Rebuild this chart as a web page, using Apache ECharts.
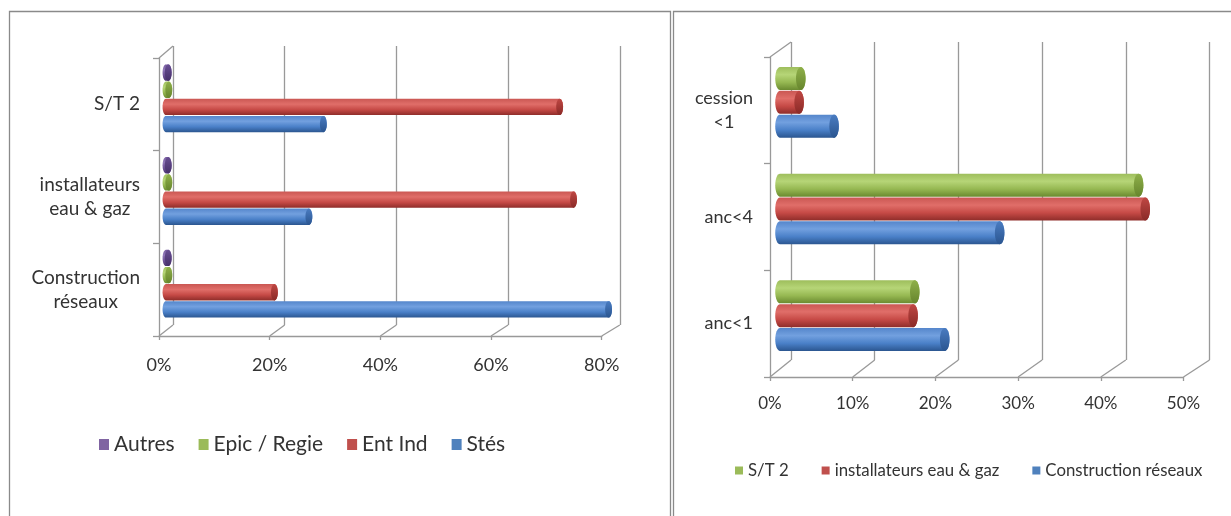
<!DOCTYPE html>
<html>
<head>
<meta charset="utf-8">
<script src="https://cdn.jsdelivr.net/npm/echarts@6/dist/echarts.min.js"></script>
<style>
  html, body { margin: 0; padding: 0; background: #ffffff; }
  #chart { width: 1231px; height: 516px; }
</style>
</head>
<body>
<div id="chart"></div>
<script>
// ---- Left panel: company type share per activity (percent) ----
const leftCategories = ['Construction\nréseaux', 'installateurs\neau & gaz', 'S/T 2'];
const leftStes   = [79.6, 25.7, 28.3];
const leftEntInd = [19.5, 73.3, 70.8];
const leftEpic   = [0.5, 0.5, 0.5];
const leftAutres = [0.4, 0.4, 0.4];
const leftTicks  = [0, 20, 40, 60, 80];

// ---- Right panel: seniority share per activity (percent) ----
const rightCategories   = ['anc<1', 'anc<4', 'cession\n<1'];
const rightConstruction = [19.8, 26.4, 6.5];
const rightInstallateurs = [16.0, 43.9, 2.3];
const rightST2          = [16.2, 43.1, 2.5];
const rightTicks        = [0, 10, 20, 30, 40, 50];

const FONT = 'Lato, "Open Sans", sans-serif';
const TEXT = '#333333';
const FRAME = '#999999';

// cylinder shading (body gradient stops, end cap gradient stops, legend swatch)
const PALETTE = {
  blue:   { body: ['#5586cb', '#72a0df', '#4a80c8', '#2b5690'], cap: ['#4a7cc1', '#2a5590'], flat: '#4f81bd' },
  red:    { body: ['#ca5753', '#e06e69', '#c64a46', '#8f2d2a'], cap: ['#bf4743', '#8a2a27'], flat: '#c0504d' },
  green:  { body: ['#9ebe5c', '#b6d577', '#96b852', '#6a8a30'], cap: ['#8fb04a', '#66852d'], flat: '#9bbb59' },
  purple: { body: ['#775c9f', '#9078b8', '#6f5398', '#4a3370'], cap: ['#684e92', '#46306a'], flat: '#8064a2' }
};

// panel geometry: front plane (axes), middle plane (bars), back wall (gridlines)
const L = {
  front: { left: 159, top: 58, width: 442.7, height: 278 },
  mid:   { left: 166, top: 52, width: 444.8, height: 278 },
  back:  { left: 173, top: 46, width: 446.8, height: 279 },
  max: 80, interval: 20, gap: 0.26
};
const R = {
  front: { left: 770, top: 57, width: 413.5, height: 320 },
  mid:   { left: 780, top: 49, width: 416, height: 320 },
  back:  { left: 791, top: 42, width: 418.5, height: 318 },
  max: 50, interval: 10, gap: 0.33
};

function grad(stops) {
  const n = stops.length - 1;
  return new echarts.graphic.LinearGradient(0, 0, 0, 1,
    stops.map((c, i) => ({ offset: i / n, color: c })));
}

function arcPts(cx, cy, rx, ry, a0, a1, steps) {
  const pts = [];
  for (let i = 0; i <= steps; i++) {
    const a = a0 + (a1 - a0) * i / steps;
    pts.push([cx + rx * Math.cos(a), cy + ry * Math.sin(a)]);
  }
  return pts;
}

// horizontal cylinder drawn from the series value through the grid's scales
function cylinder(slotFromTop, count, gap, pal) {
  return function (params, api) {
    const val = api.value(0);
    const cat = api.value(1);
    const start = api.coord([0, cat]);
    const end = api.coord([val, cat]);
    const band = api.size([0, 1])[1];
    const groupH = band * (1 - gap);
    const barH = groupH / count;
    const y0 = start[1] - groupH / 2 + slotFromTop * barH;
    const ry = barH / 2 - 0.4;
    const rx = barH * 0.2;
    const cy = y0 + barH / 2;
    const x0 = start[0], x1 = Math.max(end[0], start[0] + 0.5);
    const outline = []
      .concat(arcPts(x0, cy, rx, ry, Math.PI / 2, Math.PI * 1.5, 16))
      .concat(arcPts(x1, cy, rx, ry, -Math.PI / 2, Math.PI / 2, 16));
    const cap = arcPts(x1, cy, rx, ry, 0, Math.PI * 2, 32);
    return {
      type: 'group',
      children: [
        { type: 'polygon', shape: { points: outline }, style: { fill: grad(pal.body) } },
        { type: 'polygon', shape: { points: cap }, style: { fill: grad(pal.cap) } }
      ]
    };
  };
}

// 3D frame: floor diagonals from each front tick to the back wall, plus the wall's top corner
function frame(geo, ticks) {
  return function (params, api) {
    const cs = params.coordSys;
    const floorY = cs.y + cs.height;
    const backFloorY = geo.back.top + geo.back.height;
    const lines = ticks.map(v => {
      const fx = api.coord([v, 0])[0];
      const bx = geo.back.left + geo.back.width * v / geo.max;
      return {
        type: 'line',
        shape: { x1: fx, y1: floorY, x2: bx, y2: backFloorY },
        style: { stroke: FRAME, lineWidth: 1.3 }
      };
    });
    lines.push({
      type: 'line',
      shape: { x1: cs.x, y1: cs.y, x2: geo.back.left, y2: geo.back.top },
      style: { stroke: FRAME, lineWidth: 1.3 }
    });
    return { type: 'group', children: lines };
  };
}

function catLabel(fontSize, margin, lh) {
  return {
    margin: margin,
    color: TEXT,
    fontFamily: FONT,
    fontSize: fontSize,
    lineHeight: lh,
    formatter: v => v.split('\n').map(l => '{c|' + l + '}').join('\n'),
    rich: { c: { align: 'center', fontFamily: FONT, fontSize: fontSize, color: TEXT, lineHeight: lh } }
  };
}

function axesFor(geo, cats, gi, xFont, xMargin, yFont, yMargin, lh) {
  const x = [
    { gridIndex: gi, type: 'value', min: 0, max: geo.max, interval: geo.interval,
      axisLine: { show: true, lineStyle: { color: FRAME, width: 1.3 } },
      axisTick: { show: true, length: 4, lineStyle: { color: FRAME, width: 1.3 } },
      axisLabel: { formatter: '{value}%', margin: xMargin, color: TEXT, fontFamily: FONT, fontSize: xFont },
      splitLine: { show: false } },
    { gridIndex: gi + 1, type: 'value', min: 0, max: geo.max, interval: geo.interval, show: false },
    { gridIndex: gi + 2, type: 'value', min: 0, max: geo.max, interval: geo.interval,
      axisLine: { show: false }, axisTick: { show: false }, axisLabel: { show: false },
      splitLine: { show: true, lineStyle: { color: FRAME, width: 1.3 } } }
  ];
  const y = [
    { gridIndex: gi, type: 'category', data: cats,
      axisLine: { show: true, lineStyle: { color: FRAME, width: 1.3 } },
      axisTick: { show: true, length: 6, lineStyle: { color: FRAME, width: 1.3 } },
      axisLabel: catLabel(yFont, yMargin, lh) },
    { gridIndex: gi + 1, type: 'category', data: cats, show: false },
    { gridIndex: gi + 2, type: 'category', data: cats, show: false }
  ];
  return { x, y };
}

const la = axesFor(L, leftCategories, 0, 18, 20, 19, 19, 24);
const ra = axesFor(R, rightCategories, 3, 17, 18, 18, 17, 24);

function cylSeries(name, values, axisBase, slot, count, gap, pal) {
  return {
    name: name,
    type: 'custom',
    xAxisIndex: axisBase + 1,
    yAxisIndex: axisBase + 1,
    data: values.map((v, i) => [v, i]),
    encode: { x: 0, y: 1 },
    itemStyle: { color: pal.flat },
    renderItem: cylinder(slot, count, gap, pal),
    z: 5,
    silent: true
  };
}

const option = {
  backgroundColor: '#ffffff',
  animation: false,
  graphic: [
    { type: 'rect', shape: { x: 9.5, y: 11.5, width: 661, height: 540 },
      style: { fill: 'none', stroke: '#8a8a8a', lineWidth: 1.3 }, z: 0 },
    { type: 'rect', shape: { x: 673.5, y: 11.5, width: 600, height: 540 },
      style: { fill: 'none', stroke: '#8a8a8a', lineWidth: 1.3 }, z: 0 }
  ],
  grid: [L.front, L.mid, L.back, R.front, R.mid, R.back].map(g => Object.assign({ containLabel: false }, g)),
  xAxis: la.x.concat(ra.x),
  yAxis: la.y.concat(ra.y),
  legend: [
    { data: ['Autres', 'Epic / Regie', 'Ent Ind', 'Stés'], left: 99, top: 434, padding: 0,
      icon: 'rect', itemWidth: 10, itemHeight: 11, itemGap: 24,
      textStyle: { color: TEXT, fontFamily: FONT, fontSize: 21 } },
    { data: ['S/T 2', 'installateurs eau & gaz', 'Construction réseaux'], left: 735, top: 462, padding: 0,
      icon: 'rect', itemWidth: 8, itemHeight: 8, itemGap: 33,
      textStyle: { color: TEXT, fontFamily: FONT, fontSize: 16.8 } }
  ],
  series: [
    { type: 'custom', name: 'frameL', xAxisIndex: 0, yAxisIndex: 0, data: [[0, 0]],
      renderItem: frame(L, leftTicks), silent: true, z: 1 },
    { type: 'custom', name: 'frameR', xAxisIndex: 3, yAxisIndex: 3, data: [[0, 0]],
      renderItem: frame(R, rightTicks), silent: true, z: 1 },
    cylSeries('Stés',         leftStes,   0, 3, 4, L.gap, PALETTE.blue),
    cylSeries('Ent Ind',      leftEntInd, 0, 2, 4, L.gap, PALETTE.red),
    cylSeries('Epic / Regie', leftEpic,   0, 1, 4, L.gap, PALETTE.green),
    cylSeries('Autres',       leftAutres, 0, 0, 4, L.gap, PALETTE.purple),
    cylSeries('Construction réseaux',    rightConstruction,  3, 2, 3, R.gap, PALETTE.blue),
    cylSeries('installateurs eau & gaz', rightInstallateurs, 3, 1, 3, R.gap, PALETTE.red),
    cylSeries('S/T 2',                   rightST2,           3, 0, 3, R.gap, PALETTE.green)
  ]
};

const chart = echarts.init(document.getElementById('chart'), null, { renderer: 'canvas' });
chart.setOption(option);
</script>
</body>
</html>
